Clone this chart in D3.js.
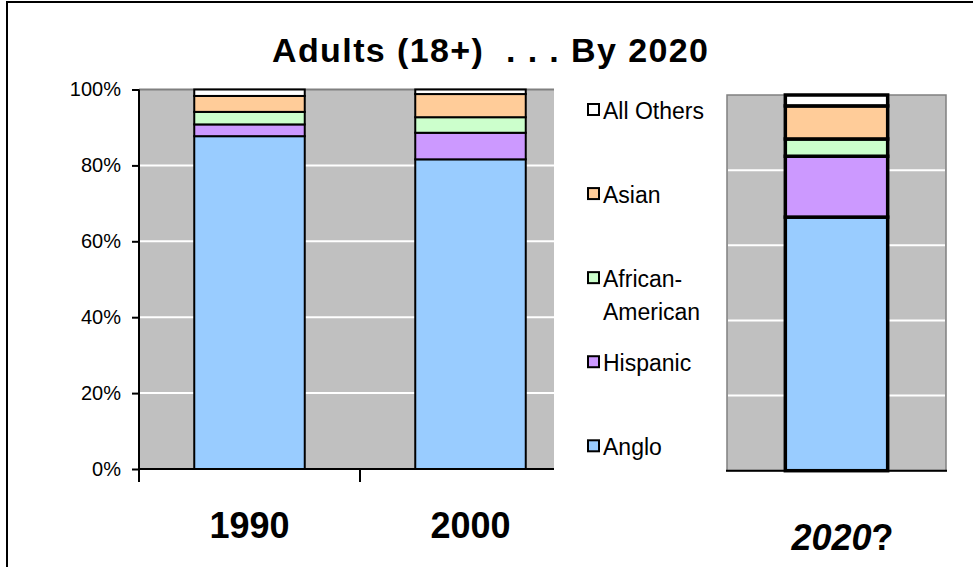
<!DOCTYPE html>
<html>
<head>
<meta charset="utf-8">
<script src="https://cdn.jsdelivr.net/npm/d3@7"></script>
<style>
  body { margin: 0; background: #fff; }
  svg { display: block; font-family: Arial, "Liberation Sans", sans-serif; }
</style>
</head>
<body>
<div id="chart"></div>
<script>
// groups from bottom of the stack to the top
const groups = ["Anglo", "Hispanic", "African-American", "Asian", "All Others"];
const legendLines = [["Anglo"], ["Hispanic"], ["African-", "American"], ["Asian"], ["All Others"]];
const colors = ["#99ccff", "#cc99ff", "#ccffcc", "#ffcc99", "#ffffff"];

const years = ["1990", "2000"];
const share1990 = [87.7, 3.1, 3.3, 4.2, 1.7];
const share2000 = [81.6, 7.0, 4.1, 6.1, 1.2];
const future = ["2020"];
const share2020 = [67.5, 16.2, 4.6, 8.8, 2.9];

const yTicks = [0, 0.2, 0.4, 0.6, 0.8, 1];

const width = 973, height = 567;

const svg = d3.select("#chart").append("svg")
  .attr("width", width)
  .attr("height", height);

// outer frame
svg.append("rect")
  .attr("x", 7).attr("y", 2)
  .attr("width", 1000).attr("height", 1000)
  .attr("fill", "none").attr("stroke", "#000").attr("stroke-width", 2);

svg.append("text")
  .attr("x", 490).attr("y", 62)
  .attr("text-anchor", "middle")
  .attr("font-size", 34).attr("font-weight", "bold")
  .attr("textLength", 436).attr("lengthAdjust", "spacing")
  .style("white-space", "pre")
  .text("Adults (18+)  . . . By 2020");

const toRow = (year, vals) => {
  const row = { year };
  groups.forEach((g, i) => (row[g] = vals[i] / 100));
  return row;
};

const stack = d3.stack().keys(groups);

// ---- left chart: 1990 / 2000 ----
const left = { x0: 139, x1: 581, top: 89.5, bottom: 469, clip: 554 };

const x = d3.scaleBand()
  .domain(years)
  .range([left.x0, left.x1])
  .paddingInner(0.5)
  .paddingOuter(0.25);

const y = d3.scaleLinear().domain([0, 1]).range([left.bottom, left.top]);

const leftSeries = stack([toRow("1990", share1990), toRow("2000", share2000)]);

svg.append("rect")
  .attr("x", left.x0).attr("y", y(1))
  .attr("width", left.clip - left.x0).attr("height", y(0) - y(1))
  .attr("fill", "#c0c0c0");

svg.append("line")
  .attr("x1", left.x0).attr("x2", left.clip)
  .attr("y1", y(1)).attr("y2", y(1))
  .attr("stroke", "#808080").attr("stroke-width", 2);

svg.append("g")
  .selectAll("line")
  .data(yTicks.slice(1, -1))
  .join("line")
  .attr("x1", left.x0).attr("x2", left.clip)
  .attr("y1", (d) => y(d)).attr("y2", (d) => y(d))
  .attr("stroke", "#fff").attr("stroke-width", 2);

svg.append("g")
  .selectAll("g")
  .data(leftSeries)
  .join("g")
  .attr("fill", (d, i) => colors[i])
  .selectAll("rect")
  .data((d) => d)
  .join("rect")
  .attr("x", (d) => x(d.data.year))
  .attr("y", (d) => y(d[1]))
  .attr("width", x.bandwidth())
  .attr("height", (d) => y(d[0]) - y(d[1]))
  .attr("stroke", "#000")
  .attr("stroke-width", 2);

const yAxis = svg.append("g")
  .attr("transform", `translate(${left.x0},0)`)
  .call(d3.axisLeft(y).tickValues(yTicks).tickFormat(d3.format(".0%")).tickSize(7).tickPadding(11));
yAxis.select(".domain").attr("stroke", "#000").attr("stroke-width", 2).attr("d", `M0,${y(0)}V${y(1)}`);
yAxis.selectAll(".tick line").attr("stroke", "#000").attr("stroke-width", 2);
yAxis.selectAll(".tick text")
  .attr("font-family", "Arial, 'Liberation Sans', sans-serif")
  .attr("font-size", 20).attr("fill", "#000");

// category axis
const bounds = years.map((d) => x(d) - (x.step() * x.paddingInner()) / 2);
bounds.push(left.x1);
svg.append("line")
  .attr("x1", left.x0).attr("x2", left.clip)
  .attr("y1", y(0)).attr("y2", y(0))
  .attr("stroke", "#000").attr("stroke-width", 2);
svg.append("g")
  .selectAll("line")
  .data(bounds.filter((b) => b < left.clip))
  .join("line")
  .attr("x1", (d) => d).attr("x2", (d) => d)
  .attr("y1", y(0)).attr("y2", y(0) + 13)
  .attr("stroke", "#000").attr("stroke-width", 2);

svg.append("g")
  .selectAll("text")
  .data(years)
  .join("text")
  .attr("x", (d) => x(d) + x.bandwidth() / 2)
  .attr("y", 538)
  .attr("text-anchor", "middle")
  .attr("font-size", 36).attr("font-weight", "bold")
  .text((d) => d);

// ---- legend ----
const legendY = d3.scalePoint()
  .domain(groups.slice().reverse())
  .range([109.5, 445.8]);

const legend = svg.append("g");
legend.append("rect")
  .attr("x", left.clip).attr("y", 80)
  .attr("width", 168).attr("height", 400)
  .attr("fill", "#fff");

const item = legend.selectAll("g")
  .data(groups)
  .join("g")
  .attr("transform", (d) => `translate(588,${legendY(d)})`);

item.append("rect")
  .attr("x", 0).attr("y", -5.5)
  .attr("width", 11).attr("height", 11)
  .attr("fill", (d, i) => colors[i])
  .attr("stroke", "#000").attr("stroke-width", 2);

item.append("text")
  .attr("x", 15).attr("y", 9)
  .attr("font-size", 23)
  .selectAll("tspan")
  .data((d, i) => legendLines[i])
  .join("tspan")
  .attr("x", 15)
  .attr("dy", (d, i) => (i === 0 ? 0 : 33.5))
  .text((d) => d);

// ---- right chart: 2020? ----
const right = { x0: 727, x1: 946, top: 95, bottom: 470.7 };

const x2 = d3.scaleBand()
  .domain(future)
  .range([right.x0, right.x1])
  .paddingOuter(0.57)
  .paddingInner(0);

const y2 = d3.scaleLinear().domain([0, 1]).range([right.bottom, right.top]);

const rightSeries = stack([toRow("2020", share2020)]);

svg.append("rect")
  .attr("x", right.x0).attr("y", y2(1))
  .attr("width", right.x1 - right.x0).attr("height", y2(0) - y2(1))
  .attr("fill", "#c0c0c0")
  .attr("stroke", "#808080").attr("stroke-width", 1.5);

svg.append("g")
  .selectAll("line")
  .data(yTicks.slice(1, -1))
  .join("line")
  .attr("x1", right.x0 + 1).attr("x2", right.x1 - 1)
  .attr("y1", (d) => y2(d)).attr("y2", (d) => y2(d))
  .attr("stroke", "#fff").attr("stroke-width", 2);

svg.append("line")
  .attr("x1", right.x0 - 1).attr("x2", right.x1 + 1)
  .attr("y1", y2(0)).attr("y2", y2(0))
  .attr("stroke", "#000").attr("stroke-width", 2);

svg.append("g")
  .selectAll("g")
  .data(rightSeries)
  .join("g")
  .attr("fill", (d, i) => colors[i])
  .selectAll("rect")
  .data((d) => d)
  .join("rect")
  .attr("x", (d) => x2(d.data.year))
  .attr("y", (d) => y2(d[1]))
  .attr("width", x2.bandwidth())
  .attr("height", (d) => y2(d[0]) - y2(d[1]))
  .attr("stroke", "#000")
  .attr("stroke-width", 3.5);

const futureLabel = svg.append("text")
  .attr("x", x2(future[0]) + x2.bandwidth() / 2 + 6)
  .attr("y", 550)
  .attr("text-anchor", "middle")
  .attr("font-size", 36).attr("font-weight", "bold");
futureLabel.append("tspan").attr("font-style", "italic").text(future[0]);
futureLabel.append("tspan").text("?");
</script>
</body>
</html>
